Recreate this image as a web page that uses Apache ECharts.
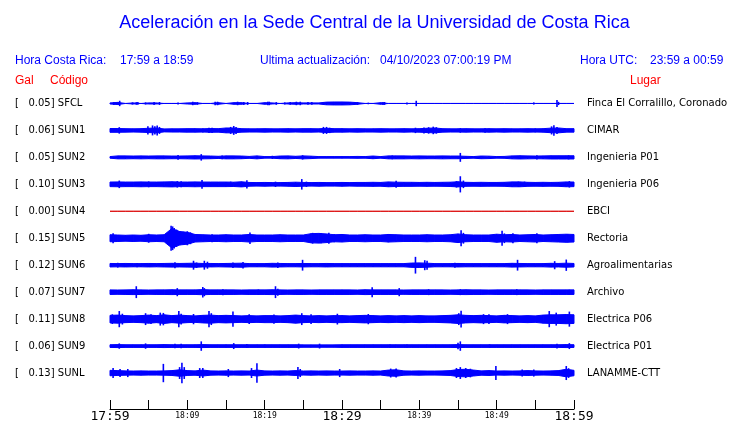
<!DOCTYPE html>
<html><head><meta charset="utf-8">
<script src="https://cdn.jsdelivr.net/npm/echarts@6/dist/echarts.min.js"></script>
<style>html,body{margin:0;padding:0;background:#fff}#c{width:740px;height:423px}</style>
</head><body><div id="c"></div>
<script>
// ---- data ----
const codes = ['SFCL','SUN1','SUN2','SUN3','SUN4','SUN5','SUN6','SUN7','SUN8','SUN9','SUNL'];
const galValues = ['0.05','0.06','0.05','0.10','0.00','0.15','0.12','0.07','0.11','0.06','0.13'];
const places = ['Finca El Corralillo, Coronado','CIMAR','Ingenieria P01','Ingenieria P06','EBCI','Rectoria','Agroalimentarias','Archivo','Electrica P06','Electrica P01','LANAMME-CTT'];
const timeLabels = ['17:59','18:09','18:19','18:29','18:39','18:49','18:59'];
const titleText = 'Aceleración en la Sede Central de la Universidad de Costa Rica';
const localRange = '17:59 a 18:59';
const utcRange = '23:59 a 00:59';
const updated = '04/10/2023 07:00:19 PM';

// band half-amplitude per minute (minute 0..60), spikes [minute, half-amplitude]
const sfclBand = [0.2,0.4,0,0.2,0,0.2,0.2,0,0,0, 0.2,0.3,0,0,0.3,0,0.3,0.3,0,0, 0.3,0.2,0,0.2,0.3,0.2,0.2,0.2,0.5,0.55, 0.55,0.5,0.3,0,0,0.3,0,0,0,0, 0,0,0,0,0,0,0,0,0,0, 0,0,0,0,0,0,0,0,0,0, 0];
const sfclSpikes = [[0.5,0.55],[1.1,0.55],[1.25,1.0],[2.9,0.4],[3.4,0.5],[3.6,0.5],[4.6,0.4],[5.7,0.55],[6.4,0.55],[8.8,0.4],[10.7,0.65],[11.3,0.5],[13.6,0.65],[13.9,0.65],[16.5,0.65],[17.3,0.55],[17.8,0.55],[20.4,0.65],[20.6,0.65],[21.5,0.5],[22.6,0.4],[23.3,0.5],[24.1,0.65],[24.6,0.65],[25.6,0.5],[26.1,0.5],[27.6,0.4],[31.6,0.55],[32.0,0.55],[33.4,0.3],[35.3,0.55],[35.5,0.55],[38.4,0.4],[39.6,1.0],[54.8,0.4],[57.8,1.3],[58.0,0.6]];

const sun1Band = [0.7,0.7,0.65,0.6,0.65,0.8,0.9,0.55,0.6,0.6, 0.65,0.65,0.6,0.7,0.65,0.9,0.9,0.65,0.6,0.6, 0.65,0.6,0.6,0.65,0.6,0.65,0.65,0.6,0.8,0.65, 0.65,0.6,0.65,0.6,0.6,0.65,0.6,0.6,0.65,0.6, 0.65,0.8,0.9,0.65,0.6,0.6,0.65,0.6,0.6,0.65, 0.6,0.65,0.6,0.6,0.65,0.6,0.65,0.85,0.9,0.65, 0.65];
const sun1Spikes = [[1.2,1.2],[4.9,1.5],[5.5,1.85],[5.8,1.5],[6.1,1.85],[6.4,1.3],[12.0,0.75],[12.8,1.0],[13.2,1.0],[15.6,1.3],[16.0,1.65],[16.3,1.3],[27.6,1.3],[28.0,1.3],[28.4,1.0],[39.5,1.0],[40.6,1.1],[41.2,1.2],[41.8,1.4],[42.2,1.2],[45.3,0.85],[48.5,0.85],[55.0,0.75],[57.1,1.5],[57.4,1.95],[57.8,1.3]];

const sun2Band = [0.3,0.55,0.55,0.5,0.55,0.5,0.55,0.55,0.5,0.5, 0.55,0.6,0.55,0.5,0.4,0.55,0.55,0.5,0.35,0.55, 0.3,0.3,0.5,0.55,0.4,0.55,0.45,0.3,0.3,0.3, 0.3,0.3,0.35,0.3,0.5,0.3,0.55,0.55,0.55,0.5, 0.55,0.5,0.5,0.55,0.5,0.5,0.4,0.3,0.5,0.45, 0.3,0.35,0.55,0.6,0.55,0.5,0.55,0.6,0.6,0.6, 0.6];
const sun2Spikes = [[8.8,0.85],[11.8,1.2],[14.5,0.7],[21.0,0.6],[24.9,0.8],[36.5,0.7],[45.3,1.65],[55.2,0.75],[59.3,0.75]];

const sun3Band = [0.85,0.9,0.85,0.85,0.9,0.85,0.85,0.9,0.95,0.85, 0.85,0.9,0.85,0.85,0.85,0.85,0.8,0.95,0.7,0.65, 0.7,0.65,0.65,0.7,0.8,0.7,0.65,0.7,0.65,0.65, 0.7,0.65,0.7,0.7,0.75,0.7,0.9,0.8,0.75,0.75, 0.7,0.75,0.7,0.75,0.8,0.95,0.75,0.7,0.75,0.7, 0.7,0.75,0.9,0.9,0.75,0.7,0.75,0.7,0.75,0.9, 0.85];
const sun3Spikes = [[1.2,1.4],[5.0,1.1],[8.7,1.2],[9.2,1.1],[11.9,1.6],[15.6,1.0],[17.7,1.5],[21.4,1.0],[24.8,1.95],[25.4,1.0],[37.0,1.3],[44.8,1.2],[45.3,3.0],[45.7,1.4],[52.8,1.0],[53.6,1.0],[59.4,1.2]];

const sun4Band = [0,0,0,0,0,0,0,0,0,0, 0,0,0,0,0,0,0,0,0,0, 0,0,0,0,0,0,0,0,0,0, 0,0,0,0,0,0,0,0,0,0, 0,0,0,0,0,0,0,0,0,0, 0,0,0,0,0,0,0,0,0,0, 0];
const sun4Spikes = [];

const sun5Band = [1.3,1.2,1.1,1.2,1.1,1.3,1.2,1.3,3.6,2.5, 2.2,1.4,1.3,1.2,1.2,1.3,1.2,1.2,1.4,1.2, 1.2,1.2,1.3,1.2,1.2,1.2,1.7,1.8,1.6,1.3, 1.4,1.2,1.2,1.3,1.2,1.2,1.4,1.3,1.2,1.2, 1.2,1.3,1.2,1.2,1.3,1.6,1.3,1.2,1.2,1.2, 1.5,1.3,1.4,1.2,1.3,1.4,1.2,1.3,1.4,1.5, 1.4];
const sun5Spikes = [[0.4,1.85],[5.0,1.65],[7.9,4.6],[8.1,4.4],[8.3,3.8],[8.6,3.2],[9.0,2.6],[9.5,2.4],[10.0,2.6],[10.4,2.2],[13.2,1.5],[18.1,2.1],[26.2,2.0],[27.3,1.9],[28.3,2.0],[29.0,1.5],[36.0,1.5],[45.4,3.0],[45.7,2.0],[50.7,2.8],[51.0,1.8],[52.1,1.85],[55.2,1.85],[59.2,1.5]];

const sun6Band = [0.65,0.6,0.65,0.6,0.6,0.65,0.6,0.65,0.7,0.65, 0.7,0.75,0.65,0.65,0.6,0.65,0.7,0.75,0.6,0.6, 0.6,0.7,0.65,0.6,0.6,0.65,0.6,0.6,0.65,0.6, 0.6,0.6,0.6,0.6,0.6,0.6,0.6,0.6,0.6,0.8, 0.85,0.75,0.6,0.6,0.6,0.65,0.6,0.6,0.6,0.6, 0.6,0.6,0.7,0.65,0.6,0.6,0.6,0.7,0.65,0.75, 0.65];
const sun6Spikes = [[1.0,0.9],[3.5,0.8],[8.4,1.1],[10.8,1.65],[11.2,1.0],[12.2,1.65],[12.6,1.3],[15.9,1.0],[17.2,1.2],[21.7,1.0],[24.9,2.0],[39.5,3.1],[40.7,1.85],[41.0,1.65],[44.6,0.9],[52.7,2.0],[57.5,1.5],[59.0,2.1]];

const sun7Band = [0.85,0.8,0.85,0.9,0.85,0.8,0.85,0.85,0.9,0.85, 0.85,0.85,0.95,0.85,0.85,0.85,0.85,0.8,0.85,0.85, 0.85,0.9,0.85,0.8,0.85,0.85,0.8,0.85,0.85,0.85, 0.85,0.85,0.8,0.9,0.85,0.85,0.85,0.85,0.8,0.85, 0.85,0.85,0.85,0.85,0.8,0.85,0.9,0.85,0.85,0.8, 0.85,0.85,0.85,0.85,0.85,0.8,0.85,0.85,0.85,0.85, 0.85];
const sun7Spikes = [[3.4,2.2],[8.7,1.5],[12.0,1.95],[12.2,1.5],[14.6,1.1],[19.2,1.0],[21.4,2.2],[21.7,1.3],[33.9,1.85],[37.4,1.5],[41.2,1.1],[45.3,1.1],[52.6,1.1],[59.4,0.9]];

const sun8Band = [1.4,1.5,1.3,1.2,1.3,1.5,1.3,1.6,1.3,1.5, 1.3,1.2,1.4,1.5,1.3,1.4,1.3,1.2,1.3,1.2, 1.3,1.3,1.2,1.3,1.5,1.3,1.2,1.3,1.2,1.3, 1.3,1.2,1.3,1.4,1.3,1.2,1.3,1.2,1.3,1.2, 1.3,1.2,1.2,1.3,1.4,1.6,1.4,1.3,1.4,1.3, 1.2,1.4,1.3,1.2,1.3,1.2,1.5,1.6,1.6,1.7, 1.6];
const sun8Spikes = [[0.3,1.8],[1.2,3.0],[1.6,2.0],[4.6,2.2],[5.3,1.8],[6.5,2.4],[6.9,2.3],[8.9,3.0],[9.2,2.0],[10.8,1.9],[12.8,3.0],[13.1,2.2],[15.9,2.8],[18.0,1.8],[21.2,1.7],[24.8,2.2],[26.0,1.85],[29.4,2.0],[33.4,1.9],[45.1,2.2],[45.4,3.1],[48.3,1.85],[49.0,1.85],[51.4,1.85],[56.8,3.0],[57.7,2.4],[59.4,2.8]];

const sun9Band = [0.5,0.55,0.5,0.5,0.5,0.5,0.5,0.55,0.5,0.5, 0.5,0.5,0.55,0.5,0.5,0.5,0.5,0.5,0.5,0.5, 0.5,0.5,0.5,0.5,0.5,0.45,0.45,0.45,0.45,0.45, 0.5,0.5,0.5,0.5,0.5,0.5,0.5,0.5,0.5,0.5, 0.5,0.5,0.5,0.5,0.5,0.55,0.5,0.5,0.5,0.5, 0.5,0.5,0.5,0.5,0.5,0.5,0.5,0.5,0.5,0.55, 0.5];
const sun9Spikes = [[1.2,1.0],[4.6,1.0],[8.4,0.85],[9.2,0.85],[11.8,1.75],[16.0,1.1],[17.7,0.75],[20.0,0.55],[24.4,0.9],[27.1,0.9],[36.2,0.55],[38.4,0.6],[45.0,1.2],[45.3,1.75],[49.1,0.6],[57.8,0.9],[59.4,1.1]];

const sunlBand = [1.0,0.9,0.8,0.75,0.8,0.75,0.75,0.8,0.9,1.2, 0.9,0.8,1.1,0.8,0.75,0.8,0.75,0.8,0.75,1.1, 0.8,0.75,0.8,0.75,0.9,0.75,0.8,0.75,0.8,0.75, 0.75,0.8,0.75,0.75,0.8,0.75,1.1,1.2,0.8,0.75, 0.8,0.75,0.75,0.8,0.9,1.3,1.4,1.1,0.8,0.9, 0.75,0.8,0.75,0.8,0.9,0.8,0.75,0.8,0.9,1.4, 1.0];
const sunlSpikes = [[0.4,1.85],[1.3,1.5],[2.3,1.5],[6.9,3.4],[9.0,2.2],[9.3,3.8],[9.6,2.2],[11.6,1.85],[12.0,1.85],[15.3,1.5],[18.3,1.85],[19.0,3.6],[24.3,2.2],[24.6,1.5],[29.7,1.5],[36.3,1.65],[37.0,1.65],[44.8,1.85],[45.3,2.2],[46.0,1.85],[46.6,1.6],[49.9,2.6],[53.3,1.3],[54.8,1.3],[59.0,2.6],[59.3,1.8]];

// ---- build ----
const traces = [
  [sfclBand, sfclSpikes], [sun1Band, sun1Spikes], [sun2Band, sun2Spikes], [sun3Band, sun3Spikes],
  [sun4Band, sun4Spikes], [sun5Band, sun5Spikes], [sun6Band, sun6Spikes], [sun7Band, sun7Spikes],
  [sun8Band, sun8Spikes], [sun9Band, sun9Spikes], [sunlBand, sunlSpikes]
];
const BLUE = '#0000ff', RED = '#ff0000';
const ROW = 10;

const series = [];
traces.forEach(([band, spikes], k) => {
  const off = ROW * (k + 1);
  const color = codes[k] === 'SUN4' ? '#dd1111' : BLUE;
  series.push({
    type: 'custom', silent: true, animation: false, clip: false,
    data: band.map((a, i) => [i, a]),
    renderItem: function (params, api) {
      const i = params.dataIndex;
      if (i >= band.length - 1) return null;
      const a0 = band[i], a1 = band[i + 1];
      const pts = [api.coord([i, off - a0]), api.coord([i + 1, off - a1]),
                   api.coord([i + 1, off + a1]), api.coord([i, off + a0])];
      return { type: 'polygon', shape: { points: pts }, style: { fill: color, stroke: color, lineWidth: 1 } };
    }
  });
  if (spikes.length) {
    series.push({
      type: 'custom', silent: true, animation: false, clip: false,
      data: spikes,
      renderItem: function (params, api) {
        const m = api.value(0), a = api.value(1);
        const p1 = api.coord([m, off - a]), p2 = api.coord([m, off + a]);
        return { type: 'rect', shape: { x: p1[0] - 0.8, y: Math.min(p1[1], p2[1]), width: 1.6, height: Math.abs(p2[1] - p1[1]) }, style: { fill: color } };
      }
    });
  }
});

function txt(x, y, text, size, color, align) {
  return { type: 'text', x: x, y: y, silent: true,
    style: { text: text, fontFamily: '"Liberation Sans", Arial, sans-serif', fontSize: size, fill: color, align: align || 'left', verticalAlign: 'middle' } };
}

const chart = echarts.init(document.getElementById('c'), null, { renderer: 'canvas' });
chart.setOption({
  backgroundColor: '#ffffff',
  animation: false,
  grid: { left: 110, right: 166, top: 76.5, height: 324 },
  xAxis: {
    type: 'value', min: 0, max: 60, interval: 5, offset: 9, position: 'bottom',
    axisLine: { onZero: false, lineStyle: { color: '#000', width: 1 } },
    axisTick: { inside: true, length: 9, lineStyle: { color: '#000', width: 1 } },
    splitLine: { show: false },
    axisLabel: {
      margin: 1, showMinLabel: true, showMaxLabel: true,
      formatter: function (v) {
        if (v % 10 !== 0) return '';
        const t = timeLabels[v / 10];
        return v % 30 === 0 ? '{big|' + t + '}' : '{small|' + t + '}';
      },
      rich: {
        big: { fontFamily: '"DejaVu Sans Mono", monospace', fontSize: 13, color: '#000' },
        small: { fontFamily: '"DejaVu Sans Mono", monospace', fontSize: 8, color: '#000', padding: [2, 0, 0, 0] }
      }
    }
  },
  yAxis: [
    {
      type: 'value', min: 0, max: 120, interval: 10, inverse: true, position: 'left',
      axisLine: { show: false }, axisTick: { show: false }, splitLine: { show: false },
      axisLabel: {
        align: 'left', margin: 95, fontFamily: '"DejaVu Sans", sans-serif', fontSize: 10, color: '#000',
        formatter: function (v) { const k = v / ROW - 1; return (k >= 0 && k < codes.length) ? '[   ' + galValues[k] + '] ' + codes[k] : ''; }
      }
    },
    {
      type: 'value', min: 0, max: 120, interval: 10, inverse: true, position: 'right',
      axisLine: { show: false }, axisTick: { show: false }, splitLine: { show: false },
      axisLabel: {
        align: 'left', margin: 13, fontFamily: '"DejaVu Sans", sans-serif', fontSize: 10, color: '#000',
        formatter: function (v) { const k = v / ROW - 1; return (k >= 0 && k < places.length) ? places[k] : ''; }
      }
    }
  ],
  graphic: [
    txt(374.5, 23, titleText, 18, BLUE, 'center'),
    txt(15, 61, 'Hora Costa Rica:', 12, BLUE),
    txt(120, 61, localRange, 12, BLUE),
    txt(260, 61, 'Ultima actualización:', 12, BLUE),
    txt(380, 61, updated, 12, BLUE),
    txt(580, 61, 'Hora UTC:', 12, BLUE),
    txt(650, 61, utcRange, 12, BLUE),
    txt(15, 81, 'Gal', 12, RED),
    txt(50, 81, 'Código', 12, RED),
    txt(630, 81, 'Lugar', 12, RED)
  ],
  series: series
});
</script>
</body></html>
